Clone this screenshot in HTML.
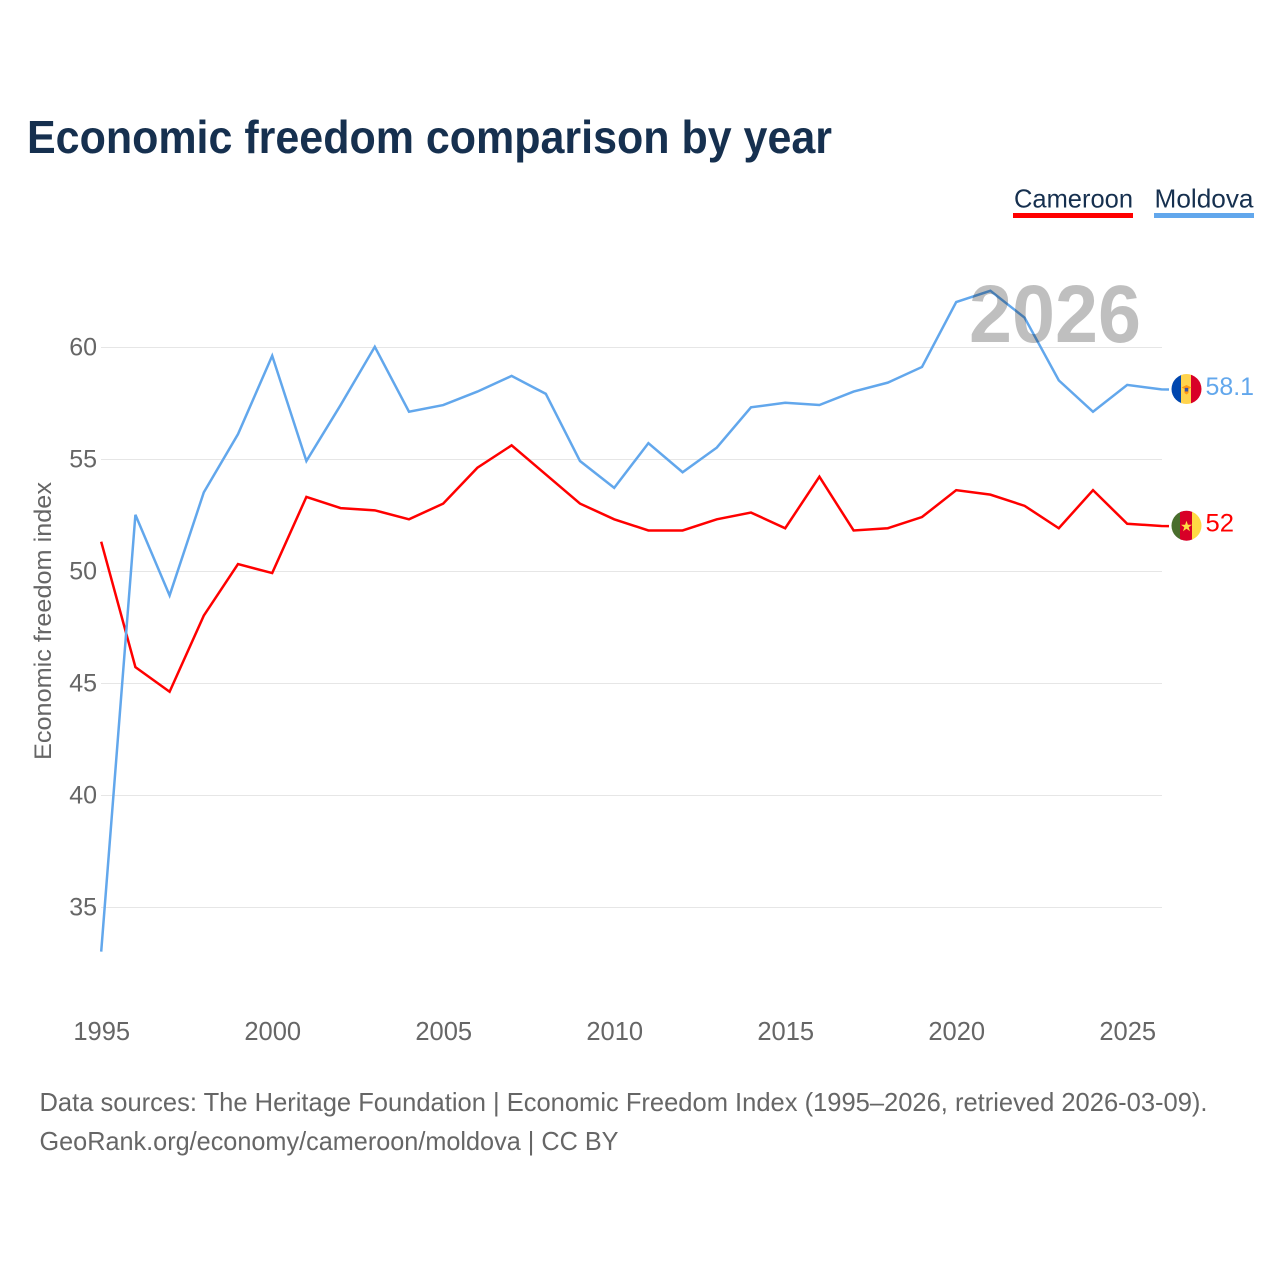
<!DOCTYPE html>
<html lang="en">
<head>
<meta charset="utf-8">
<title>Economic freedom comparison by year</title>
<style>
html,body{margin:0;padding:0;background:#fff;width:1280px;height:1280px;overflow:hidden}
svg{display:block}
text{font-family:"Liberation Sans",Arial,sans-serif}
</style>
</head>
<body>
<svg id="chart" xmlns="http://www.w3.org/2000/svg" width="1280" height="1280" viewBox="0 0 1280 1280">
  <defs>
    <clipPath id="clip-md"><circle id="clip-md-c" cx="1186.5" cy="389" r="15"/></clipPath>
    <clipPath id="clip-cm"><circle id="clip-cm-c" cx="1186.5" cy="525.5" r="15"/></clipPath>
  </defs>
  <text x="27" y="153" font-size="46" font-weight="700" fill="#16304f" textLength="805" lengthAdjust="spacingAndGlyphs">Economic freedom comparison by year</text>

  <g>
    <g>
      <text x="1014" y="207.5" font-size="26" fill="#16304f" textLength="119" lengthAdjust="spacingAndGlyphs">Cameroon</text>
      <rect x="1013" y="213" width="120" height="5" fill="#ff0000"/>
    </g>
    <g>
      <text x="1154.5" y="207.5" font-size="26" fill="#16304f" textLength="99" lengthAdjust="spacingAndGlyphs">Moldova</text>
      <rect x="1154" y="213" width="100" height="5" fill="#62a7ec"/>
    </g>
  </g>

  <g id="grid"></g>
  <g id="yticks"></g>
  <g id="xticks"></g>
  <text transform="translate(51,621) rotate(-90)" text-anchor="middle" font-size="24" fill="#666666" textLength="278" lengthAdjust="spacingAndGlyphs">Economic freedom index</text>

  <g id="series"></g>

  <text x="969" y="342" font-size="82" font-weight="700" fill="#000000" fill-opacity="0.25" textLength="172" lengthAdjust="spacingAndGlyphs">2026</text>

  <g id="flag-md">
    <g clip-path="url(#clip-md)">
      <rect x="1171" y="370" width="11" height="40" fill="#0046ae"/>
      <rect x="1181" y="370" width="11" height="40" fill="#ffd34d"/>
      <rect x="1191" y="370" width="11" height="40" fill="#d80027"/>
      <path d="M1181.5 387.5 L1186.5 385 L1191.5 387.5 L1188.5 389 L1188.5 393 L1186.5 394.5 L1184.5 393 L1184.5 389 Z" fill="#ff9811"/>
      <rect x="1184.8" y="387.8" width="3.4" height="3.6" fill="#3f51a0"/>
    </g>
  </g>
  <g id="flag-cm">
    <g clip-path="url(#clip-cm)">
      <rect x="1171" y="505" width="11" height="42" fill="#496e2d"/>
      <rect x="1180" y="505" width="13" height="42" fill="#d80027"/>
      <rect x="1192" y="505" width="11" height="42" fill="#ffda44"/>
      <path d="M1186.5 520.5 L1187.9 524.6 L1192 524.6 L1188.7 527 L1190 531 L1186.5 528.6 L1183 531 L1184.3 527 L1181 524.6 L1185.1 524.6 Z" fill="#ffda44"/>
    </g>
  </g>
  <text id="val-md" x="1205.5" y="395" font-size="25" fill="#62a7ec" textLength="48.5" lengthAdjust="spacingAndGlyphs"></text>
  <text id="val-cm" x="1205.5" y="531" font-size="25" fill="#ff0000" textLength="28.5" lengthAdjust="spacingAndGlyphs"></text>

  <text x="39.5" y="1111" font-size="26" fill="#666666" textLength="1168" lengthAdjust="spacingAndGlyphs">Data sources: The Heritage Foundation | Economic Freedom Index (1995–2026, retrieved 2026-03-09).</text>
  <text x="39.5" y="1150" font-size="26" fill="#666666" textLength="579" lengthAdjust="spacingAndGlyphs">GeoRank.org/economy/cameroon/moldova | CC BY</text>
</svg>
<script>
var firstYear = 1995;
var lastYear = 2026;
var yTickValues = [60, 55, 50, 45, 40, 35];
var xTickLabels = [1995, 2000, 2005, 2010, 2015, 2020, 2025];
var cameroonValues = [51.3, 45.7, 44.6, 48, 50.3, 49.9, 53.3, 52.8, 52.7, 52.3, 53, 54.6, 55.6, 54.3, 53, 52.3, 51.8, 51.8, 52.3, 52.6, 51.9, 54.2, 51.8, 51.9, 52.4, 53.6, 53.4, 52.9, 51.9, 53.6, 52.1, 52];
var moldovaValues = [33, 52.5, 48.9, 53.5, 56.1, 59.6, 54.9, 57.4, 60, 57.1, 57.4, 58, 58.7, 57.9, 54.9, 53.7, 55.7, 54.4, 55.5, 57.3, 57.5, 57.4, 58, 58.4, 59.1, 62, 62.5, 61.3, 58.5, 57.1, 58.3, 58.1];

var NS = 'http://www.w3.org/2000/svg';
function xScale(year) { return 101.2 + (year - firstYear) * (1161.4 - 101.2) / (lastYear - firstYear); }
function yScale(v) { return 346.8 + (60 - v) * (906.8 - 346.8) / 25; }
function make(tag, attrs, parent, text) {
  var el = document.createElementNS(NS, tag);
  for (var k in attrs) { el.setAttribute(k, attrs[k]); }
  if (text !== undefined) { el.textContent = text; }
  parent.appendChild(el);
  return el;
}

var grid = document.getElementById('grid');
var yticks = document.getElementById('yticks');
yTickValues.forEach(function (v) {
  var y = Math.round(yScale(v)) + 0.5;
  var line = make('line', { x1: 101, x2: 1162, y1: y, y2: y, stroke: '#e6e6e6', 'stroke-width': 1 }, grid);
  
  
  var label = make('text', { x: 97, y: yScale(v) + 8.7, 'text-anchor': 'end', 'font-size': 25, fill: '#666666' }, yticks, String(v));
  
  
});

var xticks = document.getElementById('xticks');
xTickLabels.forEach(function (yr) {
  var label = make('text', { x: xScale(yr) + 0.5, y: 1040, 'text-anchor': 'middle', 'font-size': 25.5, fill: '#666666' }, xticks, String(yr));
  
  
});

var seriesGroup = document.getElementById('series');
function drawSeries(values, color) {
  var pts = values.map(function (v, i) { return xScale(firstYear + i).toFixed(2) + ',' + yScale(v).toFixed(2); }).join(' ');
  var last = values[values.length - 1];
  pts += ' 1169,' + (yScale(last) + 0.1).toFixed(2);
  return make('polyline', { points: pts, fill: 'none', stroke: color, 'stroke-width': 2.5, 'stroke-linejoin': 'miter' }, seriesGroup);
}
var cameroonLine = drawSeries(cameroonValues, '#ff0000');


var moldovaLine = drawSeries(moldovaValues, '#62a7ec');



function placeEnd(values, flagId, labelId, baseCy) {
  var last = values[values.length - 1];
  var cy = yScale(last) - 0.3;
  document.getElementById(flagId).setAttribute('transform', 'translate(0,' + (cy - baseCy) + ')');
  document.getElementById(labelId).setAttribute('y', cy + 6);
  document.getElementById(labelId).textContent = String(last);
}
placeEnd(moldovaValues, 'flag-md', 'val-md', 389);
placeEnd(cameroonValues, 'flag-cm', 'val-cm', 525.5);
</script>
</body>
</html>
